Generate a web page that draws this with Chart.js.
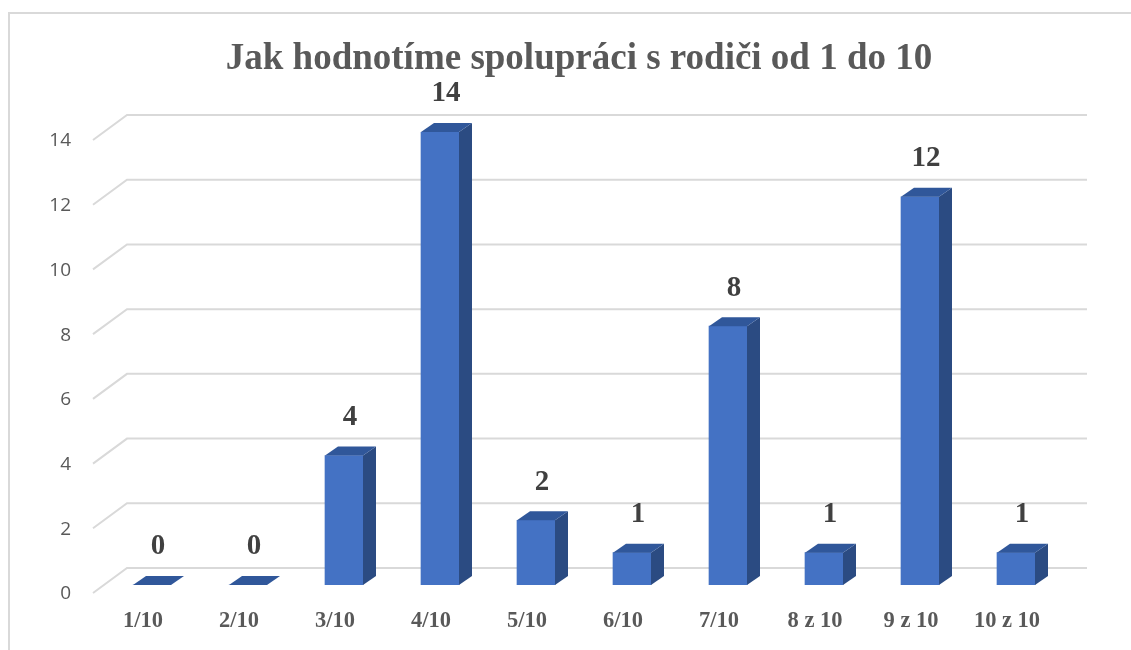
<!DOCTYPE html>
<html>
<head>
<meta charset="utf-8">
<script src="https://cdn.jsdelivr.net/npm/chart.js@4.4.1/dist/chart.umd.min.js"></script>
<style>
  html, body { margin: 0; padding: 0; background: #fff; }
  #wrap { width: 1131px; height: 650px; position: relative; }
</style>
</head>
<body>
<div id="wrap"><canvas id="chart" width="1131" height="650"></canvas></div>
<script>
// Data
const CATEGORIES = ['1/10', '2/10', '3/10', '4/10', '5/10', '6/10', '7/10', '8 z 10', '9 z 10', '10 z 10'];
const COUNTS = [0, 0, 4, 14, 2, 1, 8, 1, 12, 1];
const Y_TICKS = [0, 2, 4, 6, 8, 10, 12, 14];
const TITLE = 'Jak hodnotíme spolupráci s rodiči od 1 do 10';

// 3D look: bar depth and wall depth offsets (pixels)
const BAR_DX = 13, BAR_DY = -9;
const WALL_FRONT = { dx: -11, dy: 8 };   // front of the floor, relative to bar plane
const WALL_BACK = { dx: 23, dy: -17 };   // back wall, relative to bar plane
const TITLE_SHIFT = 47;                  // title sits right of the canvas centre

const frame = {
  id: 'frame',
  afterLayout(chart) {
    // the title is centred over the whole chart box, not the canvas
    chart.titleBlock.left += TITLE_SHIFT;
    chart.titleBlock.right += TITLE_SHIFT;
  },
  beforeDraw(chart) {
    const ctx = chart.ctx;
    ctx.save();
    ctx.strokeStyle = '#d9d9d9';
    ctx.lineWidth = 2;
    ctx.beginPath();
    ctx.moveTo(9, 650);
    ctx.lineTo(9, 13);
    ctx.lineTo(1131, 13);
    ctx.stroke();
    ctx.restore();
  },
};

const walls = {
  id: 'walls',
  beforeDatasetsDraw(chart) {
    const ctx = chart.ctx;
    const y = chart.scales.y;
    const area = chart.chartArea;
    ctx.save();
    ctx.strokeStyle = '#d9d9d9';
    ctx.lineWidth = 2;
    Y_TICKS.forEach(function (v) {
      const py = y.getPixelForValue(v);
      ctx.beginPath();
      ctx.moveTo(area.left + WALL_FRONT.dx, py + WALL_FRONT.dy);
      ctx.lineTo(area.left + WALL_BACK.dx, py + WALL_BACK.dy);
      ctx.lineTo(area.right + WALL_BACK.dx, py + WALL_BACK.dy);
      ctx.stroke();
    });
    ctx.restore();
  },
};

const bars3d = {
  id: 'bars3d',
  afterDatasetsDraw(chart) {
    const ctx = chart.ctx;
    const meta = chart.getDatasetMeta(0);
    ctx.save();
    meta.data.forEach(function (bar, i) {
      const half = bar.width / 2;
      const l = bar.x - half, r = bar.x + half, t = bar.y, b = bar.base;
      // side face
      ctx.fillStyle = '#2b4b82';
      ctx.beginPath();
      ctx.moveTo(r, t);
      ctx.lineTo(r + BAR_DX, t + BAR_DY);
      ctx.lineTo(r + BAR_DX, b + BAR_DY);
      ctx.lineTo(r, b);
      ctx.closePath();
      ctx.fill();
      // top face
      ctx.fillStyle = '#30579a';
      ctx.beginPath();
      ctx.moveTo(l, t);
      ctx.lineTo(l + BAR_DX, t + BAR_DY);
      ctx.lineTo(r + BAR_DX, t + BAR_DY);
      ctx.lineTo(r, t);
      ctx.closePath();
      ctx.fill();
      // value label
      ctx.fillStyle = '#404040';
      ctx.font = 'bold 29px "Liberation Serif", "Times New Roman", serif';
      ctx.textAlign = 'center';
      ctx.textBaseline = 'middle';
      ctx.fillText(String(COUNTS[i]), bar.x + 6, t - 38);
    });
    ctx.restore();
  },
};

new Chart(document.getElementById('chart'), {
  type: 'bar',
  data: {
    labels: CATEGORIES,
    datasets: [{
      data: COUNTS,
      backgroundColor: '#4472c4',
      borderWidth: 0,
      barThickness: 38,
    }],
  },
  options: {
    responsive: false,
    animation: false,
    layout: { padding: { left: 0, right: 67, top: 0, bottom: 18 } },
    plugins: {
      legend: { display: false },
      tooltip: { enabled: false },
      title: {
        display: true,
        text: TITLE,
        color: '#595959',
        font: { family: '"Liberation Serif", "Times New Roman", serif', size: 37, weight: 'bold', lineHeight: 1.2 },
        padding: { top: 37, bottom: 50.6 },
      },
    },
    scales: {
      x: {
        afterFit: function (scale) { scale.height = 47; },
        grid: { display: false, drawTicks: false },
        border: { display: false },
        ticks: {
          color: '#595959',
          padding: 23,
          labelOffset: -9,
          font: { family: '"Liberation Serif", "Times New Roman", serif', size: 22.5, weight: 'bold', lineHeight: 1.2 },
        },
      },
      y: {
        min: 0,
        max: 14,
        afterFit: function (scale) { scale.width = 104; },
        afterBuildTicks: function (scale) {
          scale.ticks = Y_TICKS.map(function (v) { return { value: v }; });
        },
        grid: { display: false, drawTicks: false },
        border: { display: false },
        ticks: {
          color: '#595959',
          padding: 33,
          labelOffset: 9,
          font: { family: '"Open Sans", "Liberation Sans", sans-serif', size: 19 },
        },
      },
    },
  },
  plugins: [frame, walls, bars3d],
});
</script>
</body>
</html>
